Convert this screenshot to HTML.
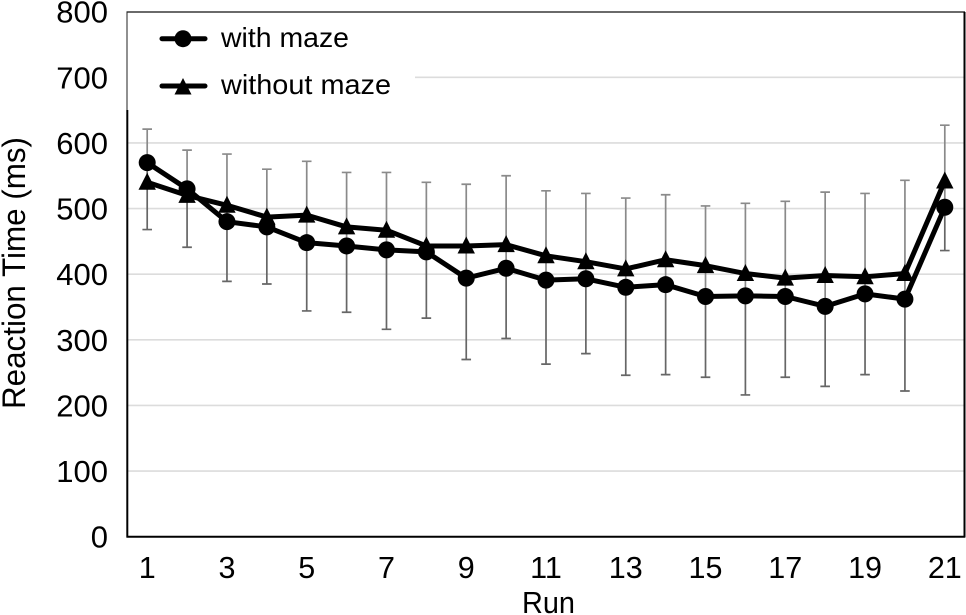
<!DOCTYPE html>
<html lang="en">
<head>
<meta charset="utf-8">
<title>Reaction Time by Run</title>
<style>
  html, body { margin: 0; padding: 0; background: #fff; width: 966px; height: 615px; overflow: hidden; }
  svg { display: block; filter: blur(0.35px); }
  text { font-family: "Liberation Sans", sans-serif; fill: #000; }
</style>
</head>
<body>
<svg id="chart" width="966" height="615" viewBox="0 0 966 615" xmlns="http://www.w3.org/2000/svg">
  <g id="grid"></g>
  <g id="errors"></g>
  <g id="series"></g>
  <rect x="128" y="13" width="287" height="97" fill="#fff"></rect>
  <g id="axes">
    <line x1="126.5" y1="12" x2="965" y2="12" stroke="#111" stroke-width="1.3"></line>
    <line x1="127" y1="12" x2="127" y2="110" stroke="#222" stroke-width="1"></line>
    <line x1="127.3" y1="110" x2="127.3" y2="537.5" stroke="#000" stroke-width="2"></line>
    <line x1="126.5" y1="536.7" x2="965" y2="536.7" stroke="#000" stroke-width="2"></line>
    <line x1="964.5" y1="12" x2="964.5" y2="537.5" stroke="#000" stroke-width="2"></line>
  </g>
  <g id="ytick-labels"></g>
  <g id="xtick-labels"></g>
  <text transform="translate(25,409) rotate(-90)" font-size="32" textLength="272" lengthAdjust="spacingAndGlyphs">Reaction Time (ms)</text>
  <text x="522" y="613" font-size="31" textLength="53" lengthAdjust="spacingAndGlyphs">Run</text>
  <g>
    <g>
      <line x1="162" y1="38.7" x2="205" y2="38.7" stroke="#000" stroke-width="5" stroke-linecap="round"></line>
      <circle cx="183" cy="38.7" r="8.5" fill="#000"></circle>
      <text x="221" y="47" font-size="28" textLength="128" lengthAdjust="spacingAndGlyphs">with maze</text>
    </g>
    <g>
      <line x1="162" y1="86" x2="205" y2="86" stroke="#000" stroke-width="5" stroke-linecap="round"></line>
      <polygon points="183,78 191.5,94.5 174.5,94.5" fill="#000"></polygon>
      <text x="221" y="94" font-size="28" textLength="170" lengthAdjust="spacingAndGlyphs">without maze</text>
    </g>
  </g>
</svg>
<script>
const runs = [1,2,3,4,5,6,7,8,9,10,11,12,13,14,15,16,17,18,19,20,21];
const xTickLabels = [1,3,5,7,9,11,13,15,17,19,21];
const yTickLabels = [0,100,200,300,400,500,600,700,800];
const gridValues = [100,200,300,400,500,600];
const withMaze = [570,530,480,472,448,443,437,434,394,409,391,393,380,384,366,367,366,351,370,362,502];
const withoutMaze = [540,520,505,487,490,472,467,443,443,445,428,419,408,422,413,401,394,398,396,401,542];
const errorUpper = [621,589,583,560,572,555,555,540,537,550,527,523,516,521,504,508,511,525,523,543,627];
const errorLower = [468,441,389,385,344,342,316,333,270,302,263,279,246,247,243,216,243,229,247,222,436];

const NS = 'http://www.w3.org/2000/svg';
const xScale = function (run) { return 147.2 + (run - 1) * 39.88; };
const yScale = function (value) { return 536.7 - value * 0.6563; };

function make(tag, parent, attrs) {
  const el = document.createElementNS(NS, tag);
  Object.keys(attrs).forEach(function (k) { el.setAttribute(k, attrs[k]); });
  parent.appendChild(el);
  return el;
}

const gridGroup = document.getElementById('grid');
gridValues.forEach(function (v) {
  const gl = make('line', gridGroup, { x1: 128, x2: 964, y1: yScale(v), y2: yScale(v), stroke: '#dcdcdc', 'stroke-width': 1.6 });
  
  
});
const topGrid = make('line', gridGroup, { x1: 415, x2: 964, y1: yScale(700), y2: yScale(700), stroke: '#dcdcdc', 'stroke-width': 1.6 });



const errorGroup = document.getElementById('errors');
runs.forEach(function (r, i) {
  const x = xScale(r);
  const yu = yScale(errorUpper[i]);
  const yl = yScale(errorLower[i]);
  const ym = yScale(withMaze[i]);
  const up = make('path', errorGroup, { d: 'M' + (x - 4.8) + ' ' + yu + 'H' + (x + 4.8) + 'M' + x + ' ' + yu + 'V' + ym, stroke: '#8a8a8a', 'stroke-width': 1.7, fill: 'none' });
  
  
  const low = make('path', errorGroup, { d: 'M' + (x - 4.8) + ' ' + yl + 'H' + (x + 4.8) + 'M' + x + ' ' + yl + 'V' + ym, stroke: '#666', 'stroke-width': 1.7, fill: 'none' });
  
  
});

const seriesGroup = document.getElementById('series');
function linePoints(values) {
  return values.map(function (v, i) { return xScale(runs[i]) + ',' + yScale(v); }).join(' ');
}
const lineWithout = make('polyline', seriesGroup, { points: linePoints(withoutMaze), fill: 'none', stroke: '#000', 'stroke-width': 5, 'stroke-linejoin': 'round' });


withoutMaze.forEach(function (v, i) {
  const x = xScale(runs[i]);
  const y = yScale(v);
  const tri = make('polygon', seriesGroup, { points: x + ',' + (y - 9.5) + ' ' + (x + 8.7) + ',' + (y + 7.5) + ' ' + (x - 8.7) + ',' + (y + 7.5), fill: '#000' });
  
  
});
const lineWith = make('polyline', seriesGroup, { points: linePoints(withMaze), fill: 'none', stroke: '#000', 'stroke-width': 5, 'stroke-linejoin': 'round' });


withMaze.forEach(function (v, i) {
  const dot = make('circle', seriesGroup, { cx: xScale(runs[i]), cy: yScale(v), r: 8.5, fill: '#000' });
  
  
});

const yLabelGroup = document.getElementById('ytick-labels');
yTickLabels.forEach(function (v) {
  const t = make('text', yLabelGroup, { x: 108, y: yScale(v) + 11, 'text-anchor': 'end', 'font-size': 31 });
  
  
  t.textContent = v;
});

const xLabelGroup = document.getElementById('xtick-labels');
xTickLabels.forEach(function (r) {
  const t = make('text', xLabelGroup, { x: xScale(r), y: 578, 'text-anchor': 'middle', 'font-size': 30.5 });
  
  
  t.textContent = r;
});
</script>
</body>
</html>
